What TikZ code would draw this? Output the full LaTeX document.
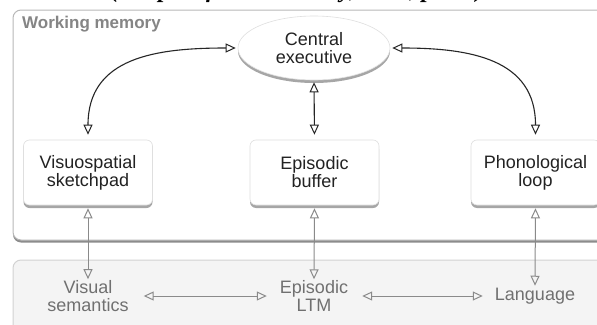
\documentclass[tikz,border=0pt]{standalone}
\usepackage{fontspec}
\setmainfont{Liberation Sans}
\newfontfamily\titlefont{Liberation Serif}
\usetikzlibrary{arrows.meta,shapes.geometric,shadows}
\definecolor{framegray}{HTML}{B8B8B8}
\definecolor{ltmfill}{HTML}{F4F4F4}
\definecolor{labelgray}{HTML}{858585}
\definecolor{lowtext}{HTML}{707070}
\definecolor{lowarrow}{HTML}{8A8A8A}
\definecolor{boxtext}{HTML}{222222}
\tikzset{
  boxfont/.style={font=\fontsize{18}{18}\selectfont},
  shade3/.style={drop shadow={shadow xshift=0pt, shadow yshift=-3pt, opacity=.35, fill=black}},
  wmbox/.style={rectangle, rounded corners=6pt, minimum width=129pt, minimum height=65pt,
    fill=white, draw=gray!25, line width=0.6pt, shade3, align=center, boxfont, text=boxtext},
  cebox/.style={ellipse, minimum width=152pt, minimum height=64pt, inner sep=0pt,
    fill=white, draw=gray!25, line width=0.6pt, shade3, align=center, boxfont, text=boxtext},
  lowlabel/.style={inner sep=0pt, align=center, boxfont, text=lowtext},
  blkarrow/.style={draw=black!85, line width=1.1pt,
    {Triangle[open,length=10pt,width=9pt,line width=1pt]}-{Triangle[open,length=10pt,width=9pt,line width=1pt]}},
  grayarrow/.style={draw=lowarrow, line width=1pt,
    {Triangle[open,length=10pt,width=9pt]}-{Triangle[open,length=10pt,width=9pt]}}
}
\begin{document}
\begin{tikzpicture}[x=1pt,y=-1pt]
\useasboundingbox (0,0) rectangle (597,324);
\begin{scope}
  \clip (0,0) rectangle (597,324);
  % working memory frame
  \draw[draw=framegray, fill=white, line width=1pt, rounded corners=8pt,
        drop shadow={shadow xshift=0pt, shadow yshift=-2.5pt, opacity=.45, fill=black}]
        (13,10) rectangle (640,240);
  % long-term memory frame
  \draw[draw=gray!35, fill=ltmfill, line width=1pt, rounded corners=8pt] (13,260) rectangle (640,360);
  \node[anchor=base east, inner sep=0pt, font=\titlefont\bfseries\itshape\fontsize{24}{24}\selectfont] (title) at (484,-2) {Model (Adapted from Baddeley, 2000, p.421)};
\end{scope}

\node[anchor=west, inner sep=0pt, font=\bfseries\fontsize{17}{17}\selectfont, text=labelgray] (wm) at (22,24) {Working memory};

\node[cebox] (ce) at (314,48) {Central\\executive};
\node[wmbox] (vis) at (88,172.5) {Visuospatial\\sketchpad};
\node[wmbox] (eb) at (314.5,172.5) {Episodic\\buffer};
\node[wmbox] (pl) at (535.5,172.5) {Phonological\\loop};

\node[lowlabel] (vs) at (88,296) {Visual\\semantics};
\node[lowlabel] (elt) at (314,296) {Episodic\\LTM};
\node[lowlabel] (lang) at (535,296) {Language};

\draw[blkarrow, shorten <=2pt, shorten >=5pt] (ce.west) to[out=180,in=90,looseness=1.2] (vis.north);
\draw[blkarrow, shorten <=2pt, shorten >=5pt] (ce.east) to[out=0,in=90,looseness=1.2] (pl.north);
\draw[blkarrow, shorten <=2pt, shorten >=5pt] (ce.south) -- (eb.north);

\draw[grayarrow, shorten <=3pt, shorten >=1pt] (vis.south) -- (vs.north);
\draw[grayarrow, shorten <=3pt, shorten >=1pt] (eb.south) -- (elt.north);
\draw[grayarrow, shorten <=3pt, shorten >=2pt] (pl.south) -- (lang.north);

\draw[grayarrow, shorten <=15pt, shorten >=13pt] (vs.east) -- (elt.west);
\draw[grayarrow, shorten <=14pt, shorten >=12pt] (elt.east) -- (lang.west);
\end{tikzpicture}
\end{document}
